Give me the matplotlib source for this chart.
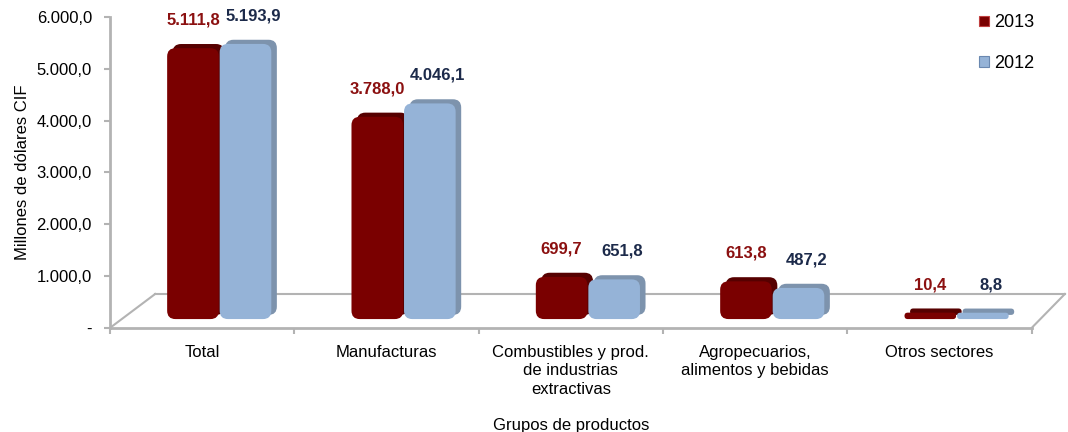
import matplotlib.pyplot as plt
import matplotlib.patheffects as pe
from matplotlib.patches import FancyBboxPatch, Patch
import numpy as np

plt.rcParams['font.family'] = ['Liberation Sans', 'DejaVu Sans']

# datos
CATEGORIAS = ["Total", "Manufacturas", "Combustibles y prod.\nde industrias\nextractivas",
              "Agropecuarios,\nalimentos y bebidas", "Otros sectores"]
VAL_2013 = [5111.8, 3788.0, 699.7, 613.8, 10.4]
VAL_2012 = [5193.9, 4046.1, 651.8, 487.2, 8.8]
YTICKS = [0, 1000, 2000, 3000, 4000, 5000, 6000]
YTICK_LABELS = ["-", "1.000,0", "2.000,0", "3.000,0", "4.000,0", "5.000,0", "6.000,0"]

ROJO = "#7a0000"
AZUL = "#95b3d7"
ROJO_TXT = "#8b1010"
AZUL_TXT = "#1c2a4a"
GRIS = "#b3b3b3"

def fmt(v):
    # formato con punto de miles y coma decimal
    s = "{:,.1f}".format(v)
    return s.replace(",", "X").replace(".", ",").replace("X", ".")

fig = plt.figure(figsize=(10.68, 4.32), dpi=100)
ax = fig.add_axes([0.103, 0.241, 0.863, 0.72])

x = np.arange(len(CATEGORIAS))
base = 170  # el piso 3D levanta las barras
ancho = 0.28

ax.set_xlim(-0.5, len(CATEGORIAS) - 0.5)
ax.set_ylim(0, 6000)

b13 = ax.bar(x - 0.05, VAL_2013, ancho, bottom=base, color=ROJO, zorder=3)
b12 = ax.bar(x + 0.235, VAL_2012, ancho, bottom=base, color=AZUL, zorder=3)

# aspecto datos-y / datos-x por pixel, para esquinas redondas
bbox = ax.get_window_extent()
aspecto = (6000 / bbox.height) / (len(CATEGORIAS) / bbox.width)
pad = 0.016

def redondear(rects, cara, lado):
    for r in rects:
        r.set_visible(False)
        h = r.get_height() / aspecto
        rs = min(0.045, (h + 2 * pad) / 2)
        p = FancyBboxPatch((r.get_x() + pad, r.get_y() + pad * aspecto),
                           r.get_width() - 2 * pad, r.get_height(),
                           boxstyle="round,pad={},rounding_size={}".format(pad, rs),
                           mutation_aspect=aspecto, fc=cara, ec="none", zorder=3)
        p.set_path_effects([pe.SimplePatchShadow(offset=(4, 3), shadow_rgbFace=lado, alpha=1.0),
                            pe.Normal()])
        ax.add_patch(p)

redondear(b13, ROJO, "#560000")
redondear(b12, AZUL, "#7d93ad")

for rects, vals, col, dx in [(b13, VAL_2013, ROJO_TXT, 0), (b12, VAL_2012, AZUL_TXT, 8)]:
    for r, v in zip(rects, vals):
        ax.annotate(fmt(v), (r.get_x() + r.get_width() / 2, base + v),
                    xytext=(dx, 34), textcoords="offset pixels", ha="center", va="center",
                    fontsize=12, fontweight="bold", color=col)

# piso en perspectiva
kw = dict(transform=ax.transAxes, clip_on=False, color=GRIS, lw=1.5, zorder=1)
ax.plot([0, 0.049], [0, 0.109], **kw)
ax.plot([0.049, 1.036], [0.109, 0.109], **kw)
ax.plot([1.0, 1.036], [0, 0.109], **kw)

ax.set_yticks(YTICKS)
ax.set_yticklabels(YTICK_LABELS, fontsize=12)
ax.set_xticks(x)
ax.set_xticklabels(CATEGORIAS, fontsize=12, linespacing=1.3)
ax.set_xticks(np.arange(len(CATEGORIAS) + 1) - 0.5, minor=True)
ax.tick_params(axis="x", which="major", length=0, pad=12)
ax.tick_params(axis="x", which="minor", length=4, color=GRIS, width=1.5)
ax.tick_params(axis="y", length=4, color=GRIS, width=1.5, pad=9)

for s in ["top", "right"]:
    ax.spines[s].set_visible(False)
for s in ["left", "bottom"]:
    ax.spines[s].set_color(GRIS)
    ax.spines[s].set_linewidth(2)

ax.set_ylabel("Millones de dólares CIF", fontsize=12, labelpad=5)
ax.set_xlabel("Grupos de productos", fontsize=12, labelpad=15)

marcas = [Patch(fc=ROJO, ec="#c04040", lw=0.8, label="2013"),
          Patch(fc=AZUL, ec="#6a88b0", lw=0.8, label="2012")]
ax.legend(handles=marcas, loc="upper left", bbox_to_anchor=(0.925, 1.06), frameon=False,
          fontsize=13, handlelength=0.55, handleheight=0.55, handletextpad=0.3, labelspacing=1.3)

fig.savefig("out.png", dpi=100)
